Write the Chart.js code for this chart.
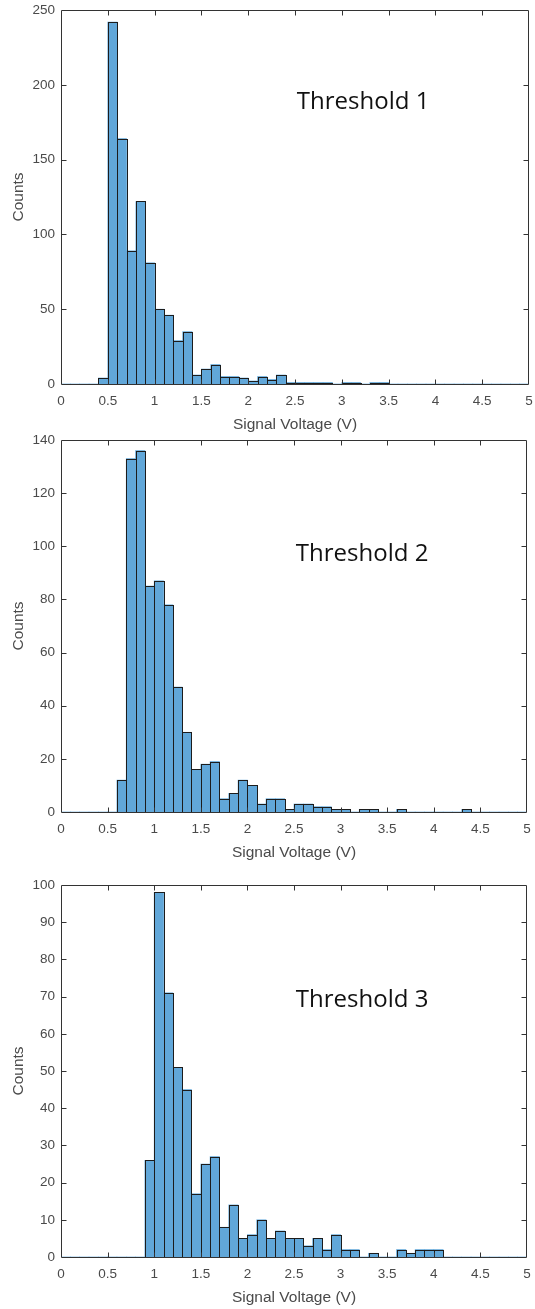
<!DOCTYPE html>
<html><head><meta charset="utf-8">
<script src="https://cdn.jsdelivr.net/npm/chart.js@4.4.1/dist/chart.umd.min.js"></script>
<style>
html,body{margin:0;padding:0;background:#fff;width:535px;height:1309px;overflow:hidden;position:relative;}
canvas{position:absolute;left:0;}
</style></head><body>
<canvas id="c1" width="535" height="436" style="top:0px"></canvas>
<canvas id="c2" width="535" height="436" style="top:428px"></canvas>
<canvas id="c3" width="535" height="436" style="top:873px"></canvas>
<script>
// Bin centers (V), bin width 0.1 V
const binCenters = [0.05,0.15,0.25,0.35,0.45,0.55,0.65,0.75,0.85,0.95,
  1.05,1.15,1.25,1.35,1.45,1.55,1.65,1.75,1.85,1.95,
  2.05,2.15,2.25,2.35,2.45,2.55,2.65,2.75,2.85,2.95,
  3.05,3.15,3.25,3.35,3.45,3.55,3.65,3.75,3.85,3.95,
  4.05,4.15,4.25,4.35,4.45,4.55,4.65,4.75,4.85,4.95];

const counts1 = [0,0,0,0,4,242,164,89,122,81,
  50,46,29,35,6,10,13,5,5,4,
  2,5,3,6,1,1,1,1,1,0,
  1,1,0,1,1,0,0,0,0,0,
  0,0,0,0,0,0,0,0,0,0];

const counts2 = [0,0,0,0,0,0,12,133,136,85,
  87,78,47,30,16,18,19,5,7,12,
  10,3,5,5,1,3,3,2,2,1,
  1,0,1,1,0,0,1,0,0,0,
  0,0,0,1,0,0,0,0,0,0];

const counts3 = [0,0,0,0,0,0,0,0,0,26,
  98,71,51,45,17,25,27,8,14,5,
  6,10,5,7,5,5,3,5,2,6,
  2,2,0,1,0,0,2,1,2,2,
  2,0,0,0,0,0,0,0,0,0];

const xTicks = [0,0.5,1,1.5,2,2.5,3,3.5,4,4.5,5];
const yTicks1 = [0,50,100,150,200,250];
const yTicks2 = [0,20,40,60,80,100,120,140];
const yTicks3 = [0,10,20,30,40,50,60,70,80,90,100];
const panelLabels = ['Threshold 1','Threshold 2','Threshold 3'];
const xLabel = 'Signal Voltage (V)';
const yLabel = 'Counts';

const FAM = "'Liberation Sans', Arial, sans-serif";
const TXT = '#4a4a4a';
const AXC = '#333333';
const BAR = '#61a7d9';
const EDGE = '#1c1c1c';

const framePlugin = {
  id: 'frame',
  afterDatasetsDraw(chart) {
    const ctx = chart.ctx;
    const meta = chart.getDatasetMeta(0);
    const ds = chart.data.datasets[0].data;
    ctx.save();
    ctx.strokeStyle = EDGE;
    ctx.lineWidth = 1;
    meta.data.forEach((el, i) => {
      if (!ds[i].y) return;
      const p = el.getProps(['x','y','base','width'], true);
      const l = Math.round(p.x - p.width/2) + 0.5;
      const r = Math.round(p.x + p.width/2) + 0.5;
      const t = Math.round(p.y) + 0.5;
      const b = Math.round(p.base) + 0.5;
      ctx.strokeRect(l, t, r - l, b - t);
    });
    ctx.restore();
  },
  afterDraw(chart, args, opts) {
    const ctx = chart.ctx;
    const a = chart.chartArea;
    const xs = chart.scales.x, ys = chart.scales.y;
    const L = Math.round(a.left) + 0.5, R = Math.round(a.right) - 0.5;
    const T = Math.round(a.top) + 0.5, B = Math.round(a.bottom) + 0.5;
    ctx.save();
    ctx.strokeStyle = AXC;
    ctx.lineWidth = 1;
    ctx.beginPath();
    ctx.rect(L, T, R - L, B - T);
    const tl = 5;
    xs.ticks.forEach(t => {
      if (t.value <= xs.min || t.value >= xs.max) return;
      const px = Math.round(xs.getPixelForValue(t.value)) + 0.5;
      ctx.moveTo(px, B); ctx.lineTo(px, B - tl);
      ctx.moveTo(px, T); ctx.lineTo(px, T + tl);
    });
    ys.ticks.forEach(t => {
      if (t.value <= ys.min || t.value >= ys.max) return;
      const py = Math.round(ys.getPixelForValue(t.value)) + 0.5;
      ctx.moveTo(L, py); ctx.lineTo(L + tl, py);
      ctx.moveTo(R, py); ctx.lineTo(R - tl, py);
    });
    ctx.stroke();
    // panel annotation
    ctx.fillStyle = '#111';
    ctx.font = "24px 'Open Sans', sans-serif";
    ctx.textBaseline = 'alphabetic';
    ctx.textAlign = 'left';
    ctx.fillText(opts.text, xs.getPixelForValue(opts.x), ys.getPixelForValue(opts.y));
    ctx.restore();
  }
};

function makeChart(id, counts, yTicks, padTop, padRight, label, labelY) {
  const data = binCenters.map((c, i) => ({x: c, y: counts[i]}));
  return new Chart(document.getElementById(id), {
    type: 'bar',
    data: { datasets: [{ data, backgroundColor: BAR, borderWidth: 0,
      barPercentage: 1, categoryPercentage: 1 }] },
    options: {
      responsive: false, animation: false, events: [],
      devicePixelRatio: 1,
      layout: { padding: { top: padTop, right: padRight, bottom: 0, left: 0 } },
      plugins: { legend: { display: false }, tooltip: { enabled: false },
        frame: { text: label, x: 2.52, y: labelY } },
      scales: {
        x: {
          type: 'linear', min: 0, max: 5, offset: false,
          afterBuildTicks: s => { s.ticks = xTicks.map(v => ({value: v})); },
          ticks: { font: { family: FAM, size: 13.5 }, color: TXT, padding: 9,
            maxRotation: 0, autoSkip: false, callback: v => String(v) },
          grid: { display: false, drawTicks: false },
          border: { display: false },
          title: { display: true, text: xLabel, color: TXT,
            font: { family: FAM, size: 15.5 }, padding: { top: 0, bottom: 2 } },
          afterFit: s => { s.height = 52; s.paddingLeft = 0; s.paddingRight = 0; }
        },
        y: {
          min: 0, max: yTicks[yTicks.length - 1],
          afterBuildTicks: s => { s.ticks = yTicks.map(v => ({value: v})); },
          ticks: { font: { family: FAM, size: 13.5 }, color: TXT, padding: 6, autoSkip: false },
          grid: { display: false, drawTicks: false },
          border: { display: false },
          title: { display: true, text: yLabel, color: TXT,
            font: { family: FAM, size: 15.5 }, padding: { top: 9, bottom: 0 } },
          afterFit: s => { s.width = 61; s.paddingTop = 0; s.paddingBottom = 0; }
        }
      }
    },
    plugins: [framePlugin]
  });
}

makeChart('c1', counts1, yTicks1, 10, 6, panelLabels[0], 184);
makeChart('c2', counts2, yTicks2, 12, 8, panelLabels[1], 94.6);
makeChart('c3', counts3, yTicks3, 12, 8, panelLabels[2], 67.3);
</script>
</body></html>
